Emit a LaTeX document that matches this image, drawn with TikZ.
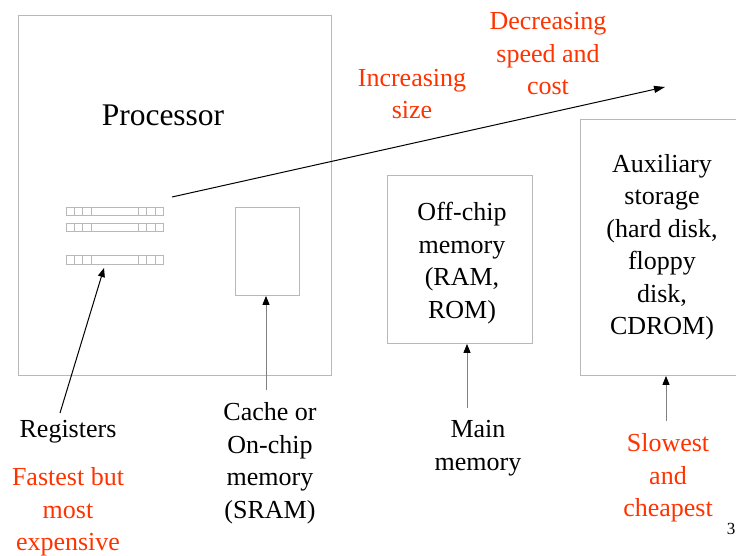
\documentclass[tikz,border=0pt]{standalone}
\usepackage{fontspec}
\setmainfont{Liberation Serif}
\usetikzlibrary{arrows.meta}
\definecolor{hot}{HTML}{FF3300}
\definecolor{edge}{HTML}{B8B8B8}
\definecolor{shaft}{HTML}{808080}
\tikzset{
  box/.style={draw=edge,line width=0.9pt,inner sep=0pt,anchor=north west},
  lbl/.style={align=center,inner sep=0pt,font=\fontsize{26}{32.5}\selectfont},
  hotlbl/.style={lbl,text=hot},
  uparrow/.style={draw=shaft,line width=1pt,-{Triangle[length=9pt,width=7pt,fill=black,color=black]}},
  longarrow/.style={draw=black,line width=1pt,-{Triangle[length=11pt,width=7pt]}},
  regrow/.style={draw=edge,line width=0.8pt}
}
\newcommand{\regrow}[2]{%
  \node[regrow,minimum width=97pt,minimum height=8.5pt,inner sep=0pt,anchor=north west] (#2) at (66,#1) {};
  \foreach \xx in {74.3,82.7,91,138.3,146.7,155}{\draw[regrow] (\xx,#1) -- ++(0,8.5);}
}
\begin{document}
\begin{tikzpicture}[x=1pt,y=-1pt]
\clip (0,0) rectangle (736,556);
\fill[white] (0,0) rectangle (736,556);
% boxes
\node[box,minimum width=313pt,minimum height=360pt] (proc) at (18,15) {};
\node[box,minimum width=64pt,minimum height=88pt] (cache) at (235,207) {};
\node[box,minimum width=145pt,minimum height=168pt] (off) at (387,175) {};
\node[box,minimum width=180pt,minimum height=256pt] (aux) at (579.5,119) {};
% registers
\regrow{207}{r1}
\regrow{222.7}{r2}
\regrow{255}{r3}
% texts
\node[lbl,font=\fontsize{31.5}{36}\selectfont] (proct) at (163,115) {Processor};
\node[lbl] (regt) at (68,432) {Registers};
\node[hotlbl] (fast) at (68,512) {Fastest but\\most\\expensive};
\node[lbl] (cachet) at (270,463) {Cache or\\On-chip\\memory\\(SRAM)};
\node[lbl] (mainm) at (478,448) {Main\\memory};
\node[hotlbl] (slow) at (668,478) {Slowest\\and\\cheapest};
\node[lbl] (offt) at (462,263) {Off-chip\\memory\\(RAM,\\ROM)};
\node[lbl] (auxt) at (662,247) {Auxiliary\\storage\\(hard disk,\\floppy\\disk,\\CDROM)};
\node[hotlbl] (incr) at (412,94) {Increasing\\size};
\node[hotlbl] (decr) at (548,54) {Decreasing\\speed and\\cost};
\node[inner sep=0pt,font=\fontsize{17}{20}\selectfont] (pg) at (731,529) {3};
% arrow ends
\coordinate (regfoot) at (60,413);
\coordinate (regtip) at (104,268);
\coordinate (cachefoot) at (266,390);
\coordinate (offfoot) at (467,408);
\coordinate (auxfoot) at (666,421);
\coordinate (longstart) at (172,197);
\coordinate (longend) at (665,87);
% connectors
\draw[draw=black,line width=1pt,-{Triangle[length=9pt,width=7pt]}] (regfoot) -- (regtip);
\draw[uparrow] (cachefoot) -- (cache.south -| cachefoot);
\draw[uparrow] (offfoot) -- (off.south -| offfoot);
\draw[uparrow] (auxfoot) -- (aux.south -| auxfoot);
\draw[longarrow] (longstart) -- (longend);
\end{tikzpicture}
\end{document}
